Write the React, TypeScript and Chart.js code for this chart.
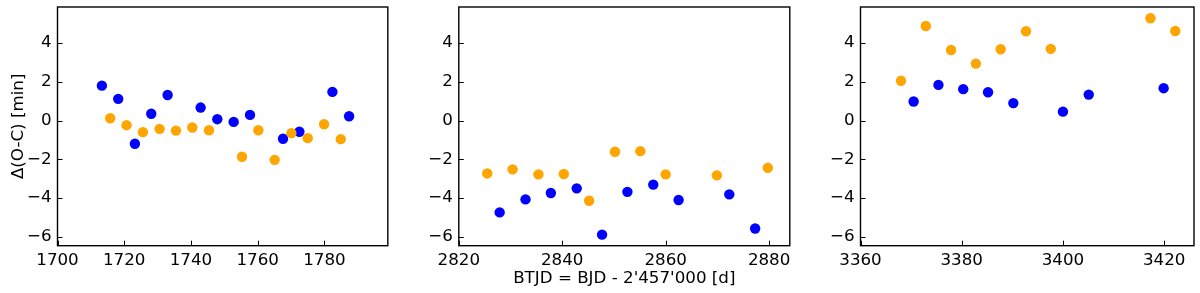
import React, { useEffect, useRef } from 'react';
import { Chart, registerables } from 'chart.js';

Chart.register(...registerables);

// ---------- data ----------
const p1BlueX = [1713.3, 1718.2, 1723.2, 1728.1, 1733.0, 1742.9, 1747.9, 1752.8, 1757.7, 1767.6, 1772.5, 1782.4, 1787.4];
const p1BlueY = [1.8, 1.12, -1.2, 0.35, 1.32, 0.67, 0.07, -0.07, 0.29, -0.94, -0.58, 1.48, 0.22];
const p1OrangeX = [1715.8, 1720.7, 1725.6, 1730.6, 1735.5, 1740.4, 1745.4, 1755.3, 1760.2, 1765.1, 1770.1, 1775.0, 1779.9, 1784.9];
const p1OrangeY = [0.12, -0.24, -0.6, -0.43, -0.52, -0.36, -0.5, -1.87, -0.5, -2.03, -0.65, -0.91, -0.19, -0.96];

const p2BlueX = [2827.9, 2832.9, 2837.8, 2842.8, 2847.7, 2852.6, 2857.6, 2862.5, 2872.3, 2877.3];
const p2BlueY = [-4.74, -4.07, -3.74, -3.5, -5.89, -3.68, -3.31, -4.1, -3.81, -5.57];
const p2OrangeX = [2825.5, 2830.4, 2835.4, 2840.3, 2845.2, 2850.2, 2855.1, 2860.0, 2869.9, 2879.75];
const p2OrangeY = [-2.73, -2.52, -2.78, -2.76, -4.14, -1.61, -1.58, -2.78, -2.83, -2.44];

const p3BlueX = [3370.5, 3375.4, 3380.3, 3385.2, 3390.2, 3400.0, 3405.1, 3419.9];
const p3BlueY = [0.98, 1.84, 1.62, 1.46, 0.9, 0.46, 1.34, 1.67];
const p3OrangeX = [3368.0, 3372.9, 3377.9, 3382.8, 3387.7, 3392.7, 3397.6, 3417.3, 3422.2];
const p3OrangeY = [2.05, 4.88, 3.64, 2.94, 3.68, 4.61, 3.7, 5.28, 4.62];

const p1XTicks = [1700, 1720, 1740, 1760, 1780];
const p2XTicks = [2820, 2840, 2860, 2880];
const p3XTicks = [3360, 3380, 3400, 3420];
const yTicks = [-6, -4, -2, 0, 2, 4];

const yTitleText = 'Δ(O-C) [min]';
const xTitleText = "BTJD = BJD - 2'457'000 [d]";

// ---------- style ----------
const FONT_FAMILY = "'DejaVu Sans', sans-serif";
const FONT_SIZE = 16.7;
const BLUE = '#0000ff';
const ORANGE = '#ffa500';

function fmt(v: number): string {
  return v < 0 ? '\u2212' + Math.abs(v) : String(v);
}

function zip(xs: number[], ys: number[]) {
  return xs.map((x, i) => ({ x, y: ys[i] }));
}

const frameTicks = {
  id: 'frameTicks',
  afterDraw(chart: any) {
    const { ctx, chartArea } = chart;
    const { left, right, top, bottom } = chartArea;
    ctx.save();
    ctx.strokeStyle = '#000';
    ctx.lineWidth = 1;
    const xs = chart.scales.x;
    const ys = chart.scales.y;
    xs.ticks.forEach((t: any) => {
      const px = Math.round(xs.getPixelForValue(t.value)) + 0.5;
      ctx.beginPath();
      ctx.moveTo(px, bottom);
      ctx.lineTo(px, bottom - 5);
      ctx.stroke();
    });
    ys.ticks.forEach((t: any) => {
      const py = Math.round(ys.getPixelForValue(t.value)) + 0.5;
      ctx.beginPath();
      ctx.moveTo(left, py);
      ctx.lineTo(left + 5, py);
      ctx.stroke();
    });
    ctx.lineWidth = 1.4;
    ctx.strokeRect(left, top, right - left, bottom - top);
    ctx.restore();
  },
};

type PanelCfg = {
  left: number;
  width: number;
  yWidth: number;
  padRight: number;
  xMin: number;
  xMax: number;
  xTicks: number[];
  blueX: number[];
  blueY: number[];
  orangeX: number[];
  orangeY: number[];
  yTitle: boolean;
  xTitle: boolean;
};

const panels: PanelCfg[] = [
  { left: 0, width: 393, yWidth: 57.5, padRight: 2, xMin: 1700, xMax: 1799, xTicks: p1XTicks,
    blueX: p1BlueX, blueY: p1BlueY, orangeX: p1OrangeX, orangeY: p1OrangeY, yTitle: true, xTitle: false },
  { left: 400, width: 395, yWidth: 58.8, padRight: 1.7, xMin: 2820, xMax: 2884, xTicks: p2XTicks,
    blueX: p2BlueX, blueY: p2BlueY, orangeX: p2OrangeX, orangeY: p2OrangeY, yTitle: false, xTitle: true },
  { left: 800, width: 400, yWidth: 60.5, padRight: 6, xMin: 3360, xMax: 3425.9, xTicks: p3XTicks,
    blueX: p3BlueX, blueY: p3BlueY, orangeX: p3OrangeX, orangeY: p3OrangeY, yTitle: false, xTitle: false },
];

function Panel({ cfg }: { cfg: PanelCfg }) {
  const ref = useRef<HTMLCanvasElement>(null);
  useEffect(() => {
    const font = { family: FONT_FAMILY, size: FONT_SIZE };
    const chart = new Chart(ref.current as HTMLCanvasElement, {
      type: 'scatter',
      data: {
        datasets: [
          { data: zip(cfg.orangeX, cfg.orangeY), backgroundColor: ORANGE, borderColor: ORANGE, borderWidth: 0, pointRadius: 5.2 },
          { data: zip(cfg.blueX, cfg.blueY), backgroundColor: BLUE, borderColor: BLUE, borderWidth: 0, pointRadius: 5.2 },
        ],
      },
      options: {
        responsive: false,
        animation: false,
        layout: { padding: { top: 7, right: cfg.padRight, left: 0, bottom: 0 } },
        plugins: { legend: { display: false }, tooltip: { enabled: false } },
        scales: {
          x: {
            type: 'linear',
            min: cfg.xMin,
            max: cfg.xMax,
            grid: { display: false, drawTicks: false },
            border: { display: false },
            afterBuildTicks: (s: any) => { s.ticks = cfg.xTicks.map((v) => ({ value: v })); },
            afterFit: (s: any) => {
              s.height = 47.3;
              s.paddingLeft = 0; s.paddingRight = 0; s.paddingTop = 0; s.paddingBottom = 0;
            },
            ticks: { font, color: '#000', padding: 5, autoSkip: false, maxRotation: 0, callback: (v: any) => fmt(Number(v)) },
            title: { display: cfg.xTitle, text: xTitleText, font, color: '#000', padding: { top: 0, bottom: 4 } },
          },
          y: {
            type: 'linear',
            min: -6.46,
            max: 5.86,
            grid: { display: false, drawTicks: false },
            border: { display: false },
            afterBuildTicks: (s: any) => { s.ticks = yTicks.map((v) => ({ value: v })); },
            afterFit: (s: any) => {
              s.width = cfg.yWidth;
              s.paddingLeft = 0; s.paddingRight = 0; s.paddingTop = 0; s.paddingBottom = 0;
            },
            ticks: { font, color: '#000', padding: 6, autoSkip: false, callback: (v: any) => fmt(Number(v)) },
            title: { display: cfg.yTitle, text: yTitleText, font, color: '#000', padding: { top: 9, bottom: 0 } },
          },
        },
      },
      plugins: [frameTicks],
    } as any);
    return () => chart.destroy();
  }, [cfg]);
  return (
    <canvas
      ref={ref}
      width={cfg.width}
      height={293}
      style={{ position: 'absolute', left: cfg.left, top: 0, width: cfg.width, height: 293 }}
    />
  );
}

export default function App() {
  return (
    <div style={{ position: 'fixed', left: 0, top: 0, width: 1200, height: 293, background: '#fff' }}>
      {panels.map((p, i) => (
        <Panel key={i} cfg={p} />
      ))}
    </div>
  );
}
